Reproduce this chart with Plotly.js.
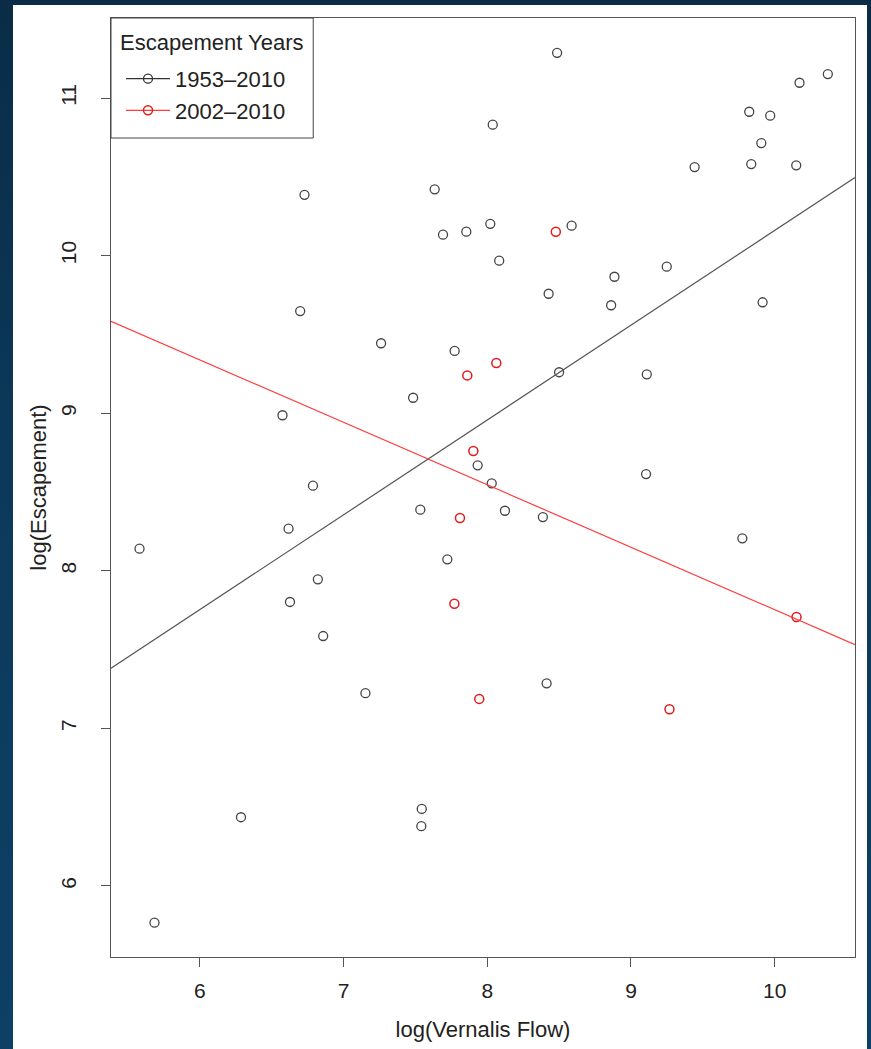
<!DOCTYPE html>
<html>
<head>
<meta charset="utf-8">
<script src="https://cdn.plot.ly/plotly-3.0.1.min.js"></script>
<style>
  html, body { margin: 0; padding: 0; width: 871px; height: 1049px; overflow: hidden;
    background: linear-gradient(180deg, #0a2c47 0%, #0c3a5c 50%, #0d4066 100%); }
  #chart { position: absolute; left: 13px; top: 5px; width: 854px; height: 1044px; background: #fff; }
</style>
</head>
<body>
<div id="chart"></div>
<script>
// log(Vernalis Flow) and log(Escapement), years 1953-2001
const flowAll = [5.580, 5.684, 6.286, 6.575, 6.617, 6.627, 6.698, 6.728, 6.787, 6.821,
  6.858, 7.152, 7.261, 7.484, 7.534, 7.544, 7.541, 7.634, 7.692, 7.722,
  7.773, 7.854, 7.933, 8.021, 8.031, 8.038, 8.083, 8.123, 8.387, 8.413,
  8.427, 8.486, 8.500, 8.587, 8.862, 8.885, 9.110, 9.105, 9.249, 9.443,
  9.775, 9.823, 9.837, 9.907, 9.916, 9.969, 10.150, 10.173, 10.370];
const escAll = [8.140, 5.767, 6.436, 8.987, 8.267, 7.802, 9.648, 10.386, 8.540, 7.946,
  7.586, 7.223, 9.444, 9.098, 8.388, 6.489, 6.379, 10.421, 10.133, 8.073,
  9.395, 10.152, 8.669, 10.202, 8.555, 10.831, 9.968, 8.381, 8.341, 7.286,
  9.758, 11.287, 9.260, 10.190, 9.685, 9.866, 9.247, 8.614, 9.930, 10.562,
  8.206, 10.913, 10.581, 10.714, 9.704, 10.888, 10.573, 11.097, 11.152];
// years 2002-2010
const flowRecent = [7.771, 7.810, 7.861, 7.903, 7.944, 8.063, 8.477, 9.268, 10.152];
const escRecent = [7.791, 8.335, 9.240, 8.760, 7.187, 9.319, 10.152, 7.121, 7.707];

// fitted lines (intercept, slope)
const fitAll = { intercept: 4.144, slope: 0.6016 };
const fitRecent = { intercept: 11.716, slope: -0.3963 };

const xRange = [5.3815, 10.559];
const yRange = [5.549, 11.508];
const xTicks = [6, 7, 8, 9, 10];
const yTicks = [6, 7, 8, 9, 10, 11];
const legendTitle = 'Escapement Years';
const legendNames = ['1953\u20132010', '2002\u20132010'];

const BLACK = '#444';
const RED = '#e31a1a';
const FONT = 'Liberation Sans, Arial, sans-serif';

function lineY(f) { return xRange.map(x => f.intercept + f.slope * x); }

const traces = [
  { x: flowAll, y: escAll, type: 'scatter', mode: 'markers', showlegend: false,
    marker: { symbol: 'circle-open', size: 9, color: BLACK, line: { width: 1.3, color: BLACK } } },
  { x: flowRecent, y: escRecent, type: 'scatter', mode: 'markers', showlegend: false,
    marker: { symbol: 'circle-open', size: 9, color: RED, line: { width: 1.5, color: '#d81c1c' } } },
  { x: xRange, y: lineY(fitAll), type: 'scatter', mode: 'lines', showlegend: false,
    line: { color: '#555', width: 1.2 } },
  { x: xRange, y: lineY(fitRecent), type: 'scatter', mode: 'lines', showlegend: false,
    line: { color: '#ff3b3b', width: 1.2 } },
  { x: [null], y: [null], type: 'scatter', mode: 'lines+markers', name: legendNames[0],
    line: { color: '#333', width: 1.2 },
    marker: { symbol: 'circle-open', size: 9, color: '#333', line: { width: 1.3, color: '#333' } } },
  { x: [null], y: [null], type: 'scatter', mode: 'lines+markers', name: legendNames[1],
    line: { color: '#ff3b3b', width: 1.2 },
    marker: { symbol: 'circle-open', size: 9, color: RED, line: { width: 1.5, color: RED } } }
];

const axisCommon = {
  showline: true, mirror: true, linecolor: '#555', linewidth: 1.2,
  ticks: 'outside', ticklen: 9, tickcolor: '#555', tickwidth: 1,
  showgrid: false, zeroline: false,
  tickfont: { family: FONT, size: 21, color: '#222' }
};

const layout = {
  width: 854, height: 1044,
  paper_bgcolor: '#ffffff', plot_bgcolor: '#ffffff',
  margin: { l: 97.5, r: 11.5, t: 13, b: 92 },
  font: { family: FONT, color: '#222' },
  xaxis: Object.assign({}, axisCommon, {
    range: xRange, tickvals: xTicks, ticktext: xTicks.map(String), ticklabelstandoff: 6,
    title: { text: 'log(Vernalis Flow)', font: { size: 22, color: '#222' }, standoff: 20 }
  }),
  yaxis: Object.assign({}, axisCommon, {
    range: yRange, tickvals: yTicks, ticktext: yTicks.map(String), tickangle: -90, ticklabelstandoff: 16,
    title: { text: 'log(Escapement)', font: { size: 22, color: '#222' }, standoff: 4 }
  }),
  shapes: [{
    type: 'rect', xref: 'paper', yref: 'paper', x0: 0, x1: 0.2718, y0: 0.8722, y1: 1,
    line: { color: '#444', width: 1 }, fillcolor: '#ffffff', layer: 'above'
  }],
  annotations: [{
    xref: 'paper', yref: 'paper', x: 0.1356, y: 0.9734, xanchor: 'center', yanchor: 'middle',
    text: legendTitle, showarrow: false, font: { size: 22, color: '#222' }
  }],
  legend: {
    x: 0, y: 0.9575, xanchor: 'left', yanchor: 'top',
    bgcolor: 'rgba(0,0,0,0)', borderwidth: 0,
    font: { size: 22, color: '#222' },
    tracegroupgap: 0, itemwidth: 44, indentation: 10
  },
  showlegend: true
};

Plotly.newPlot('chart', traces, layout, { displayModeBar: false, staticPlot: true });
</script>
</body>
</html>
